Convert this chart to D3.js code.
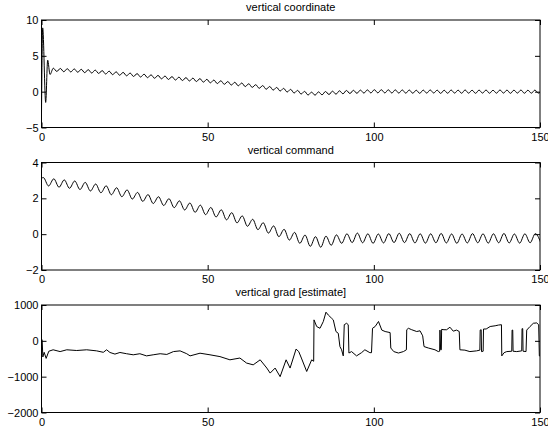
<!DOCTYPE html>
<html>
<head>
<meta charset="utf-8">
<script src="https://cdn.jsdelivr.net/npm/d3@7"></script>
<style>
  html, body { margin: 0; padding: 0; background: #fff; }
  svg { display: block; }
  text { font-family: "Liberation Sans", Arial, Helvetica, sans-serif; font-size: 11px; fill: #000; }
</style>
</head>
<body>
<svg id="chart" width="548" height="432"></svg>
<script>
// ---------- data ----------
const xTicks = [0, 50, 100, 150];
const coordTicks = [-5, 0, 5, 10];
const cmdTicks = [-2, 0, 2, 4];
const gradTicks = [-2000, -1000, 0, 1000];
const titles = ["vertical coordinate", "vertical command", "vertical grad [estimate]"];

// vertical coordinate: initial transient, then ripple extrema on a regular time grid
const coordHeadT = [0, 0.36, 1.26, 1.86, 2.56];
const coordHeadV = [-3.0, 8.9, -1.5, 4.4, 2.4];
const coordRippleStart = 3.56;
const coordRippleStep = 1.05;
const coordRippleV = [
  3.27, 2.82, 3.24, 2.78, 3.2, 2.75, 3.17, 2.71, 3.12, 2.65,
  3.07, 2.6, 3.01, 2.54, 2.94, 2.46, 2.86, 2.37, 2.77, 2.29,
  2.69, 2.21, 2.6, 2.12, 2.52, 2.04, 2.44, 1.95, 2.35, 1.87,
  2.27, 1.79, 2.18, 1.7, 2.1, 1.62, 2.03, 1.55, 1.96, 1.49,
  1.89, 1.41, 1.82, 1.33, 1.72, 1.23, 1.62, 1.13, 1.52, 1.03,
  1.41, 0.92, 1.31, 0.82, 1.21, 0.71, 1.1, 0.6, 0.97, 0.47,
  0.85, 0.34, 0.72, 0.22, 0.59, 0.09, 0.46, -0.05, 0.32, -0.19,
  0.18, -0.33, 0.04, -0.47, -0.07, -0.49, -0.03, -0.44, 0.02, -0.4,
  0.07, -0.35, 0.12, -0.3, 0.17, -0.26, 0.19, -0.23, 0.22, -0.2,
  0.25, -0.18, 0.27, -0.17, 0.27, -0.18, 0.26, -0.19, 0.25, -0.2,
  0.24, -0.21, 0.23, -0.22, 0.2, -0.23, 0.22, -0.2, 0.24, -0.19,
  0.21, -0.24, 0.2, -0.22, 0.23, -0.2, 0.21, -0.22, 0.24, -0.21,
  0.2, -0.23, 0.22, -0.2, 0.23, -0.22, 0.2, -0.21, 0.24, -0.2,
  0.22, -0.23, 0.21, -0.2, 0.23, -0.22, 0.2, -0.21, 0.22, -0.2, 0.15
];

// vertical command
const cmdHeadT = [0];
const cmdHeadV = [3.12];
const cmdRippleStart = 0.55;
const cmdRippleStep = 1.575;
const cmdRippleV = [
  3.16, 2.69, 3.09, 2.62, 3.03, 2.56, 2.97, 2.49, 2.89, 2.41,
  2.8, 2.31, 2.7, 2.2, 2.59, 2.09, 2.47, 1.96, 2.33, 1.83,
  2.21, 1.71, 2.09, 1.6, 1.98, 1.48, 1.86, 1.35, 1.74, 1.22,
  1.62, 1.09, 1.49, 0.96, 1.36, 0.8, 1.2, 0.63, 1.02, 0.44,
  0.83, 0.25, 0.64, 0.06, 0.46, -0.14, 0.27, -0.33, 0.1, -0.51,
  -0.05, -0.68, -0.14, -0.73, -0.11, -0.62, -0.04, -0.51, 0.02, -0.47,
  0.06, -0.48, 0.02, -0.51, 0.01, -0.49, 0.03, -0.47, 0.05, -0.47,
  0.03, -0.49, 0.02, -0.5, 0.02, -0.48, 0.04, -0.49, 0.01, -0.51,
  0.01, -0.49, 0.03, -0.48, 0.02, -0.5, 0.02, -0.48, 0.04, -0.49,
  0.01, -0.5, 0.02, -0.48, 0.03, -0.45
];

// vertical grad [estimate]
const gradT = [
  0, 0.2, 0.4, 0.8, 1.4, 2.2, 3.5, 5.6, 7.6, 10.6,
  13.6, 16.6, 18.6, 19.6, 20.6, 22.1, 23.6, 25.6, 27.6, 29.6,
  31.6, 33.6, 35.7, 37.7, 39.7, 41.7, 43.7, 44.7, 47.7, 50.7,
  53.7, 56.7, 59.7, 61.7, 63.7, 65.8, 67.8, 68.8, 70.3, 71.8,
  73.6, 74.8, 76.6, 77.4, 78.2, 79.8, 81.3, 81.9, 82.0, 82.8,
  83.8, 84.8, 85.6, 86.3, 87.3, 87.8, 88.6, 89.3, 89.8, 90.3,
  90.8, 91.1, 91.8, 92.3, 92.5, 93.3, 94.8, 96.3, 97.3, 98.8,
  99.3, 99.6, 100.4, 101.4, 102.4, 103.4, 104.9, 105.1, 106.0, 107.4,
  108.9, 109.8, 109.9, 110.4, 111.4, 112.9, 113.9, 114.7, 115.1, 116.4,
  118.4, 119.4, 119.8, 119.9, 120.1, 120.3, 120.4, 121.1, 121.9, 122.9,
  123.9, 124.9, 125.7, 125.9, 127.4, 128.9, 130.9, 131.9, 132.0, 132.3,
  132.4, 132.9, 133.0, 133.8, 135.0, 136.5, 137.5, 138.4, 138.5, 139.2,
  140.0, 141.5, 141.6, 141.8, 141.9, 143.0, 144.5, 144.6, 144.8, 144.9,
  145.8, 146.0, 147.0, 148.0, 149.0, 149.6, 149.8, 150.0
];
const gradV = [
  50, 20, -450, -320, -490, -290, -250, -300, -250, -270,
  -250, -280, -320, -250, -325, -370, -325, -360, -390, -360,
  -420, -390, -360, -380, -300, -280, -360, -420, -345, -390,
  -440, -530, -480, -620, -670, -530, -760, -900, -760, -1000,
  -530, -760, -230, -300, -480, -855, -530, -570, 585, 400,
  350, 540, 800, 720, 630, 585, 260, 210, -160, -250,
  -420, 450, 490, 450, -340, -300, -420, -330, -250, -330,
  -330, 350, 400, 540, 300, 260, 230, -200, -300, -340,
  -300, -250, 310, 350, 310, 260, 280, 140, -160, -200,
  -250, -300, -290, 300, -250, -250, 320, 310, 310, 380,
  270, 300, 260, -250, -260, -300, -280, -260, 300, 310,
  -300, -290, 330, 330, 400, 420, 440, 450, -420, -330,
  -300, -290, 300, 300, -290, -300, -280, 340, 340, -290,
  -300, 300, 400, 490, 500, 450, -420, -420
];

// ---------- layout ----------
const W = 548, H = 432;
const left = 41.5, right = 540;
const panelTops = [20, 162.5, 305];
const panelH = 107.5;
const tickLen = 5;

const svg = d3.select("#chart");
svg.append("rect").attr("width", W).attr("height", H).attr("fill", "#fff");

const x = d3.scaleLinear().domain([0, 150]).range([left, right]);

function build(headT, headV, start, step, rip) {
  const pts = headT.map((t, i) => [t, headV[i]]);
  rip.forEach((v, i) => pts.push([start + i * step, v]));
  return pts;
}

const panels = [
  { domain: [-5, 10], ticks: coordTicks, data: build(coordHeadT, coordHeadV, coordRippleStart, coordRippleStep, coordRippleV), curve: d3.curveMonotoneX },
  { domain: [-2, 4], ticks: cmdTicks, data: build(cmdHeadT, cmdHeadV, cmdRippleStart, cmdRippleStep, cmdRippleV), curve: d3.curveMonotoneX },
  { domain: [-2000, 1000], ticks: gradTicks, data: gradT.map((t, i) => [t, gradV[i]]), curve: d3.curveLinear }
];

panels.forEach((p, k) => {
  const top = panelTops[k], bottom = top + panelH;
  const y = d3.scaleLinear().domain(p.domain).range([bottom, top]);
  const g = svg.append("g");

  const clipId = "clip" + k;
  svg.append("clipPath").attr("id", clipId)
    .append("rect").attr("x", left).attr("y", top).attr("width", right - left).attr("height", panelH);

  // data line
  g.append("path")
    .datum(p.data)
    .attr("clip-path", `url(#${clipId})`)
    .attr("fill", "none")
    .attr("stroke", "#000")
    .attr("stroke-width", 1)
    .attr("stroke-linejoin", "round")
    .attr("d", d3.line().x(d => x(d[0])).y(d => y(d[1])).curve(p.curve));

  // axes (ticks inward, MATLAB style)
  const fmt = d3.format("");
  const bottomAxis = d3.axisBottom(x).tickValues(xTicks).tickSizeInner(-tickLen).tickSizeOuter(0).tickPadding(5.5).tickFormat(fmt);
  const topAxis = d3.axisTop(x).tickValues(xTicks).tickSizeInner(-tickLen).tickSizeOuter(0).tickFormat("");
  const leftAxis = d3.axisLeft(y).tickValues(p.ticks).tickSizeInner(-tickLen).tickSizeOuter(0).tickPadding(3).tickFormat(fmt);
  const rightAxis = d3.axisRight(y).tickValues(p.ticks).tickSizeInner(-tickLen).tickSizeOuter(0).tickFormat("");

  const axes = [
    g.append("g").attr("transform", `translate(0,${bottom})`).call(bottomAxis),
    g.append("g").attr("transform", `translate(0,${top})`).call(topAxis),
    g.append("g").attr("transform", `translate(${left},0)`).call(leftAxis),
    g.append("g").attr("transform", `translate(${right},0)`).call(rightAxis)
  ];
  axes.forEach(a => {
    a.attr("font-family", null).attr("font-size", null);
    a.select(".domain").remove();
    a.selectAll(".tick line").attr("stroke", "#000").attr("stroke-width", 1);
    a.selectAll(".tick text").attr("fill", "#000");
  });

  // box
  g.append("rect")
    .attr("x", left).attr("y", top)
    .attr("width", right - left).attr("height", panelH)
    .attr("fill", "none").attr("stroke", "#000").attr("stroke-width", 1);

  // title
  svg.append("text")
    .attr("x", (left + right) / 2)
    .attr("y", top - 9)
    .attr("text-anchor", "middle")
    .text(titles[k]);
});
</script>
</body>
</html>
